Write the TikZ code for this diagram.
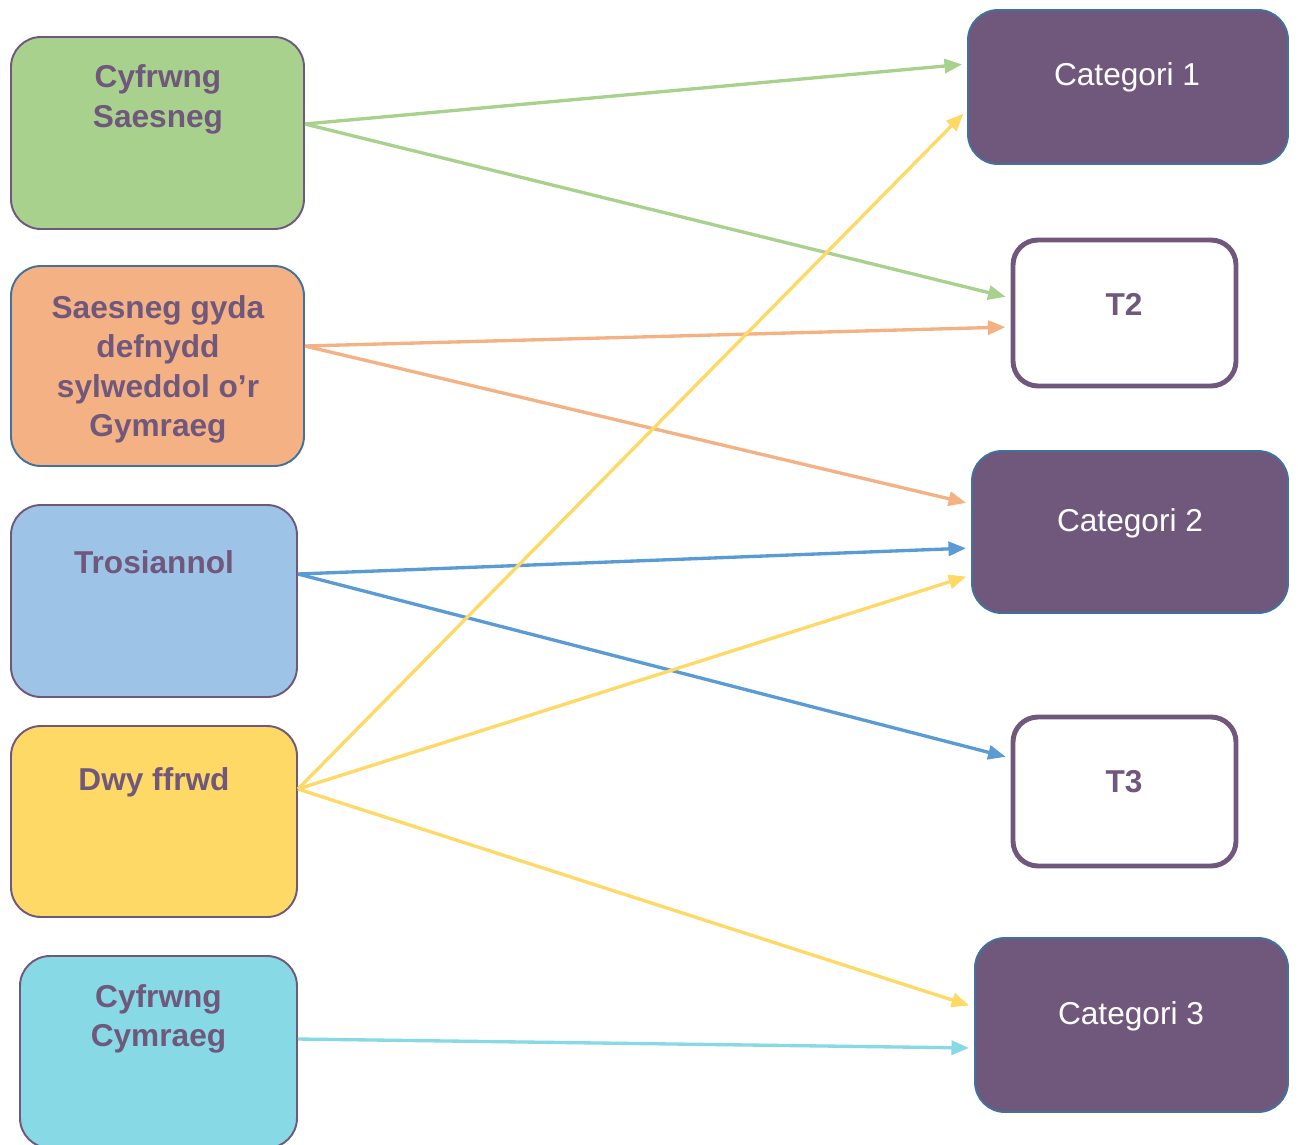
\documentclass[tikz,border=0pt]{standalone}
\usepackage{fontspec}
\setmainfont{Liberation Sans}
\usepackage{tikz}
\usetikzlibrary{shapes,arrows.meta,positioning}
\definecolor{plum}{RGB}{112,88,124}
\definecolor{steel}{RGB}{65,113,156}
\definecolor{leaf}{RGB}{169,209,142}
\definecolor{peach}{RGB}{244,177,131}
\definecolor{sky}{RGB}{157,195,230}
\definecolor{skyline}{RGB}{91,155,213}
\definecolor{sun}{RGB}{255,217,102}
\definecolor{aqua}{RGB}{134,217,229}

\tikzset{
  srcbox/.style={draw=plum, line width=1.1pt, rounded corners=0.6cm, inner sep=0pt},
  catbox/.style={draw=steel, fill=plum, line width=1.1pt, rounded corners=0.6cm, inner sep=0pt},
  tbox/.style={draw=plum, fill=white, line width=2.8pt, rounded corners=0.5cm, inner sep=0pt},
  srctext/.style={text=plum, font=\fontsize{18}{22.5}\selectfont\bfseries, align=center},
  cattext/.style={text=white, font=\fontsize{18}{22.5}\selectfont},
  link/.style={line width=1.9pt, -{Triangle[length=10pt,width=8pt]}, shorten >=0.1cm}
}

\begin{document}
\begin{tikzpicture}
\useasboundingbox (0,0) rectangle (25.96,-22.88);

% Left column
\node[srcbox, fill=leaf, minimum width=5.86cm, minimum height=3.84cm] (saesneg) at (3.15,-2.66) {};
\node[srcbox, fill=peach, draw=steel, minimum width=5.86cm, minimum height=4.0cm] (gyda) at (3.15,-7.32) {};
\node[srcbox, fill=sky, minimum width=5.72cm, minimum height=3.84cm] (trosi) at (3.08,-12.02) {};
\node[srcbox, fill=sun, minimum width=5.72cm, minimum height=3.82cm] (dwy) at (3.08,-16.43) {};
\node[srcbox, fill=aqua, minimum width=5.54cm, minimum height=3.84cm] (cymraeg) at (3.17,-21.04) {};

\node[srctext] (saesneg-txt) at (3.16,-1.99) {Cyfrwng\\Saesneg};
\node[srctext] (gyda-txt) at (3.16,-7.39) {Saesneg gyda\\defnydd\\sylweddol o’r\\Gymraeg};
\node[srctext] (trosi-txt) at (3.08,-11.24) {Trosiannol};
\node[srctext] (dwy-txt) at (3.08,-15.64) {Dwy ffrwd};
\node[srctext] (cymraeg-txt) at (3.17,-20.38) {Cyfrwng\\Cymraeg};

% Right column
\node[catbox, minimum width=6.4cm, minimum height=3.08cm] (cat1) at (22.56,-1.74) {};
\node[tbox, minimum width=4.46cm, minimum height=2.92cm] (t2) at (22.49,-6.26) {};
\node[catbox, minimum width=6.32cm, minimum height=3.24cm] (cat2) at (22.6,-10.64) {};
\node[tbox, minimum width=4.46cm, minimum height=2.98cm] (t3) at (22.49,-15.83) {};
\node[catbox, minimum width=6.26cm, minimum height=3.48cm] (cat3) at (22.63,-20.5) {};

\node[cattext] (cat1-txt) at (22.54,-1.55) {Categori 1};
\node[srctext] (t2-txt) at (22.48,-6.08) {T2};
\node[cattext] (cat2-txt) at (22.6,-10.47) {Categori 2};
\node[srctext] (t3-txt) at (22.48,-15.64) {T3};
\node[cattext] (cat3-txt) at (22.62,-20.33) {Categori 3};

% Arrows
\draw[link, leaf] ([yshift=0.18cm]saesneg.east) -- ([yshift=0.46cm]cat1.west);
\draw[link, leaf] ([yshift=0.18cm]saesneg.east) -- ([yshift=0.3cm]t2.west);
\draw[link, peach] ([yshift=0.4cm]gyda.east) -- ([yshift=-0.28cm]t2.west);
\draw[link, peach] ([yshift=0.4cm]gyda.east) -- ([yshift=0.56cm]cat2.west);
\draw[link, skyline] ([yshift=0.54cm]trosi.east) -- ([yshift=-0.32cm]cat2.west);
\draw[link, skyline] ([yshift=0.54cm]trosi.east) -- ([yshift=0.67cm]t3.west);
\draw[link, sun] ([yshift=0.65cm]dwy.east) -- ([yshift=-0.46cm]cat1.west);
\draw[link, sun] ([yshift=0.65cm]dwy.east) -- ([yshift=-0.86cm]cat2.west);
\draw[link, sun] ([yshift=0.65cm]dwy.east) -- ([yshift=0.36cm]cat3.west);
\draw[link, aqua] ([yshift=0.26cm]cymraeg.east) -- ([yshift=-0.46cm]cat3.west);
\end{tikzpicture}
\end{document}
